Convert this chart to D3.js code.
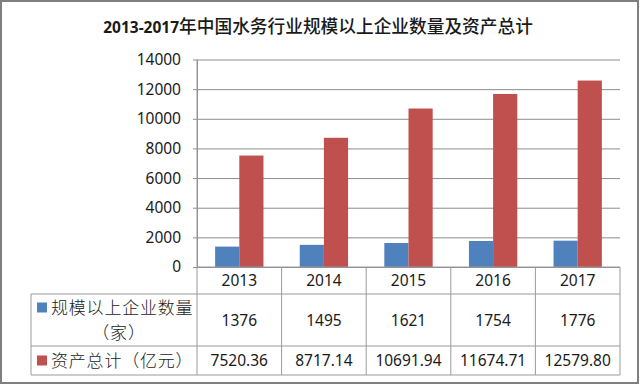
<!DOCTYPE html>
<html lang="zh">
<head>
<meta charset="utf-8">
<title>2013-2017年中国水务行业规模以上企业数量及资产总计</title>
<script src="https://cdnjs.cloudflare.com/ajax/libs/d3/7.8.5/d3.min.js"></script>
<style>
  body { margin: 0; background: #fff; }
  svg text { fill: #1a1a1a; }
  .num { font-family: "Noto Sans", "Liberation Sans", sans-serif; }
  .cjk { font-family: "Noto Sans CJK SC", sans-serif; }
</style>
</head>
<body>
<div id="chart"></div>
<script>
// data
var years = ["2013", "2014", "2015", "2016", "2017"];
var enterprises = [1376, 1495, 1621, 1754, 1776];
var assets = [7520.36, 8717.14, 10691.94, 11674.71, 12579.80];
var yTicks = [0, 2000, 4000, 6000, 8000, 10000, 12000, 14000];
var seriesLabels = [["规模以上企业数量", "（家）"], ["资产总计（亿元）"]];
var colors = ["#4f81bd", "#c0504d"];

var W = 640, H = 385;
var plotLeft = 197, plotRight = 620, plotTop = 59.5, zero = 267;
var tableLeft = 31, rowLines = [267, 294, 346, 375];

var svg = d3.select("#chart").append("svg")
  .attr("width", W).attr("height", H);

// outer frame
svg.append("rect")
  .attr("x", 1).attr("y", 1).attr("width", W - 3).attr("height", H - 3)
  .attr("fill", "#fff").attr("stroke", "#7f7f7f").attr("stroke-width", 2);

// title: bold digits, CJK part slightly lighter
var title = svg.append("text")
  .attr("x", 318).attr("y", 27).attr("dy", "0.36em")
  .attr("text-anchor", "middle");
title.append("tspan")
  .attr("class", "num").attr("font-size", 15.5).attr("font-weight", "bold")
  .text("2013-2017");
title.append("tspan")
  .attr("class", "cjk").attr("font-size", 17.7).attr("font-weight", 500)
  .text("年中国水务行业规模以上企业数量及资产总计");

var x = d3.scaleBand().domain(years).range([plotLeft, plotRight]).padding(0);
var xs = d3.scaleBand().domain([0, 1]).range([0, x.bandwidth()])
  .paddingInner(0).paddingOuter(0.75);
var y = d3.scaleLinear().domain([0, 14000]).range([zero, plotTop]);

// gridlines
svg.append("g")
  .attr("transform", "translate(" + plotLeft + ",0)")
  .call(d3.axisLeft(y).tickValues(yTicks).tickSize(-(plotRight - plotLeft)).tickFormat(""))
  .call(function (g) { g.select(".domain").remove(); })
  .selectAll("line").attr("stroke", "#8c8c8c");

// y axis
var yAxis = svg.append("g")
  .attr("transform", "translate(" + plotLeft + ",0)")
  .call(d3.axisLeft(y).tickValues(yTicks).tickSize(4).tickSizeOuter(0).tickPadding(12)
    .tickFormat(d3.format("d")));
yAxis.select(".domain").attr("stroke", "#8c8c8c");
yAxis.selectAll("line").attr("stroke", "#8c8c8c");
yAxis.selectAll("text")
  .attr("class", "num").attr("font-size", 15.5).attr("fill", "#1a1a1a");

// bars
var series = [enterprises, assets];
series.forEach(function (vals, s) {
  svg.append("g").selectAll("rect")
    .data(vals)
    .join("rect")
    .attr("x", function (d, i) { return x(years[i]) + xs(s); })
    .attr("y", function (d) { return y(d); })
    .attr("width", xs.bandwidth())
    .attr("height", function (d) { return zero - y(d); })
    .attr("fill", colors[s]);
});

// data table
var tbl = svg.append("g").attr("stroke", "#9a9a9a").attr("stroke-width", 1);
years.concat(["end"]).forEach(function (yr, i) {
  var xx = i < years.length ? x(yr) : plotRight;
  tbl.append("line")
    .attr("x1", xx).attr("x2", xx)
    .attr("y1", i === 0 ? plotTop : rowLines[0]).attr("y2", rowLines[3]);
});
tbl.append("line").attr("x1", tableLeft).attr("x2", tableLeft)
  .attr("y1", rowLines[1]).attr("y2", rowLines[3]);
rowLines.forEach(function (ry, i) {
  tbl.append("line")
    .attr("x1", i === 0 ? plotLeft : tableLeft).attr("x2", plotRight)
    .attr("y1", ry).attr("y2", ry);
});

// year row
svg.append("g").selectAll("text")
  .data(years).join("text")
  .attr("class", "num")
  .attr("x", function (d) { return x(d) + x.bandwidth() / 2; })
  .attr("y", (rowLines[0] + rowLines[1]) / 2)
  .attr("dy", "0.36em")
  .attr("text-anchor", "middle").attr("font-size", 15.5)
  .text(function (d) { return d; });

var fmt = [d3.format("d"), d3.format(".2f")];
series.forEach(function (vals, s) {
  var cy = (rowLines[s + 1] + rowLines[s + 2]) / 2;
  svg.append("g").selectAll("text")
    .data(vals).join("text")
    .attr("class", "num")
    .attr("x", function (d, i) { return x(years[i]) + x.bandwidth() / 2; })
    .attr("y", cy).attr("dy", "0.36em")
    .attr("text-anchor", "middle").attr("font-size", 15.5)
    .text(function (d) { return fmt[s](d); });

  // legend key and label, wrapped onto a second line where needed
  var lines = seriesLabels[s];
  var firstY = lines.length > 1 ? cy - 12.5 : cy;
  svg.append("rect")
    .attr("x", 37).attr("y", firstY - 5)
    .attr("width", 10).attr("height", 10)
    .attr("fill", colors[s]);
  lines.forEach(function (ln, k) {
    svg.append("text")
      .attr("class", "cjk")
      .attr("x", k === 0 ? 51 : 119)
      .attr("y", firstY + k * 25).attr("dy", "0.36em")
      .attr("text-anchor", k === 0 ? "start" : "middle")
      .attr("font-size", 17).attr("font-weight", 300)
      .attr("letter-spacing", 0.8)
      .attr("fill", "#333")
      .text(ln);
  });
});
</script>
</body>
</html>
